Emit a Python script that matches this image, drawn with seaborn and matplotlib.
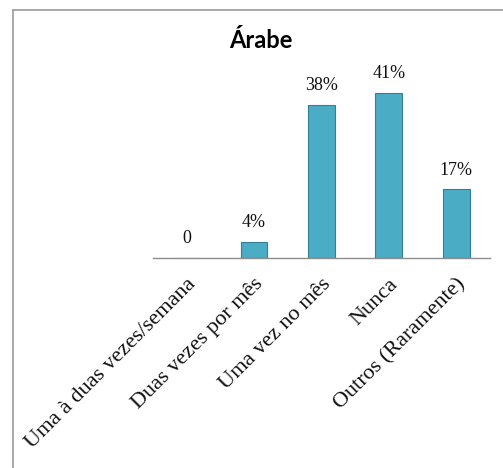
import matplotlib
matplotlib.use("Agg")
import matplotlib.pyplot as plt
from matplotlib.lines import Line2D
import seaborn as sns
import pandas as pd

categories = [
    "Uma à duas vezes/semana",
    "Duas vezes por mês",
    "Uma vez no mês",
    "Nunca",
    "Outros (Raramente)",
]
values = [0, 4, 38, 41, 17]
value_labels = ["0", "4%", "38%", "41%", "17%"]
title = "Árabe"

sns.set_theme(style="white")
plt.rcParams["font.family"] = ["DejaVu Sans"]

df = pd.DataFrame({"categoria": categories, "valor": values})

fig = plt.figure(figsize=(5.03, 4.68), dpi=100)
fig.patch.set_facecolor("white")
ax = fig.add_axes([0.304, 0.4487, 0.670, 0.3876])

sns.barplot(data=df, x="categoria", y="valor", ax=ax, color="#4BACC6",
            saturation=1, width=0.4, edgecolor="#357F94", linewidth=0.8)

ax.set_xlim(-0.5, len(categories) - 0.5)
ax.set_ylim(0, 45)
ax.set_xlabel("")
ax.set_ylabel("")
ax.set_yticks([])
for side in ("left", "right", "top"):
    ax.spines[side].set_visible(False)
ax.spines["bottom"].set_color("#8c8c8c")
ax.spines["bottom"].set_linewidth(1.0)

ax.tick_params(axis="x", length=0, pad=12)
ax.set_xticks(range(len(categories)))
ax.set_xticklabels(categories, rotation=45, ha="right", rotation_mode="anchor",
                   family="Liberation Serif", fontsize=16, color="#111111")

for i, (v, lab) in enumerate(zip(values, value_labels)):
    ax.annotate(lab, xy=(i, v), xytext=(0, 14), textcoords="offset points",
                ha="center", va="center", family="Liberation Serif",
                fontsize=13, color="#111111", annotation_clip=False)

fig.text(0.519, 0.913, title, ha="center", va="center", family="Lato",
         fontweight="bold", fontsize=17, color="black")

# chart frame (left and top edges)
fig.add_artist(Line2D([13 / 503, 13 / 503], [0, 1 - 10 / 468],
                      transform=fig.transFigure, color="#999999", lw=1.2))
fig.add_artist(Line2D([13 / 503, 1], [1 - 10 / 468, 1 - 10 / 468],
                      transform=fig.transFigure, color="#999999", lw=1.2))

fig.savefig("out.png", dpi=100)
